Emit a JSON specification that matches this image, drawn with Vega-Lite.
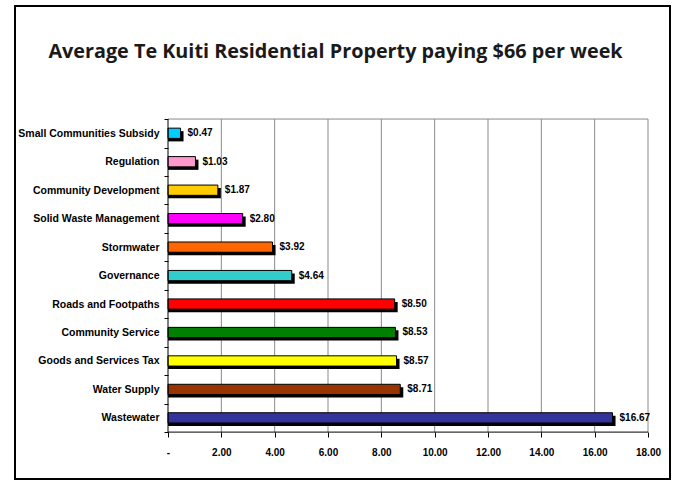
{
  "$schema": "https://vega.github.io/schema/vega-lite/v6.json",
  "width": 655,
  "height": 473,
  "autosize": "none",
  "padding": {"left": 15, "top": 6, "right": 8, "bottom": 2},
  "background": "white",
  "title": {
    "text": "Average Te Kuiti Residential Property paying $66 per week",
    "font": "Open Sans",
    "fontSize": 19.8,
    "fontWeight": "bold",
    "color": "#1a1a1a",
    "anchor": "middle",
    "offset": -61,
    "dx": -7
  },
  "config": {"view": {"stroke": "black", "strokeWidth": 2}},
  "resolve": {"axis": {"x": "independent", "y": "independent"}},
  "datasets": {
    "costs": [
      {"cat": "Small Communities Subsidy", "value": 0.47},
      {"cat": "Regulation", "value": 1.03},
      {"cat": "Community Development", "value": 1.87},
      {"cat": "Solid Waste Management", "value": 2.80},
      {"cat": "Stormwater", "value": 3.92},
      {"cat": "Governance", "value": 4.64},
      {"cat": "Roads and Footpaths", "value": 8.50},
      {"cat": "Community Service", "value": 8.53},
      {"cat": "Goods and Services Tax", "value": 8.57},
      {"cat": "Water Supply", "value": 8.71},
      {"cat": "Wastewater", "value": 16.67}
    ],
    "grid": [{"v": 2}, {"v": 4}, {"v": 6}, {"v": 8}, {"v": 10}, {"v": 12}, {"v": 14}, {"v": 16}, {"v": 18}],
    "edges": [{"x0": 0, "x1": 18}]
  },
  "layer": [
    {
      "data": {"name": "costs"},
      "mark": {"type": "bar", "stroke": "black", "strokeWidth": 1, "height": {"band": 0.36}, "opacity": 0},
      "encoding": {
        "x": {
          "field": "value",
          "type": "quantitative",
          "scale": {"domain": [-5.7375, 18.825], "nice": false, "zero": false},
          "axis": {
            "values": [0, 2, 4, 6, 8, 10, 12, 14, 16, 18],
            "labelExpr": "datum.value == 0 ? '-' : format(datum.value, '.2f')",
            "grid": false,
            "domain": false,
            "offset": -47,
            "tickSize": 5,
            "tickColor": "black",
            "labelPadding": 10,
            "labelFont": "Liberation Sans",
            "labelFontSize": 10,
            "labelFontWeight": "bold",
            "labelColor": "black",
            "title": null
          }
        },
        "x2": {"datum": 0},
        "y": {
          "field": "cat",
          "type": "nominal",
          "scale": {
            "domain": ["_p1", "_p2", "_p3", "Small Communities Subsidy", "Regulation", "Community Development", "Solid Waste Management", "Stormwater", "Governance", "Roads and Footpaths", "Community Service", "Goods and Services Tax", "Water Supply", "Wastewater", "_p4"],
            "paddingInner": 0,
            "paddingOuter": 0.81,
            "align": 0.6
          },
          "axis": {
            "values": ["Small Communities Subsidy", "Regulation", "Community Development", "Solid Waste Management", "Stormwater", "Governance", "Roads and Footpaths", "Community Service", "Goods and Services Tax", "Water Supply", "Wastewater"],
            "title": null,
            "domain": false,
            "grid": false,
            "offset": -153,
            "tickBand": "extent",
            "tickSize": 4,
            "tickColor": "black",
            "labelPadding": 5,
            "labelFont": "Liberation Sans",
            "labelFontSize": 10.5,
            "labelFontWeight": "bold",
            "labelColor": "black",
            "labelLimit": 300
          }
        }
      }
    },
    {
      "data": {"name": "grid"},
      "mark": {"type": "rule", "color": "#8a8a8a", "strokeWidth": 1},
      "encoding": {
        "x": {"field": "v", "type": "quantitative", "axis": null},
        "y": {"datum": "Small Communities Subsidy", "bandPosition": 0, "axis": null},
        "y2": {"datum": "Wastewater", "bandPosition": 1}
      }
    },
    {
      "data": {"name": "edges"},
      "mark": {"type": "rule", "color": "#8a8a8a", "strokeWidth": 1},
      "encoding": {
        "x": {"field": "x0", "type": "quantitative", "axis": null},
        "x2": {"field": "x1"},
        "y": {"datum": "Small Communities Subsidy", "bandPosition": 0, "axis": null}
      }
    },
    {
      "data": {"name": "costs"},
      "mark": {"type": "bar", "color": "black", "height": {"band": 0.36}, "xOffset": 3, "yOffset": 3},
      "encoding": {
        "x": {"field": "value", "type": "quantitative", "axis": null},
        "x2": {"datum": 0},
        "y": {"field": "cat", "type": "nominal", "axis": null}
      }
    },
    {
      "data": {"name": "costs"},
      "mark": {"type": "bar", "stroke": "black", "strokeWidth": 1, "height": {"band": 0.36}},
      "encoding": {
        "x": {"field": "value", "type": "quantitative", "axis": null},
        "x2": {"datum": 0},
        "y": {"field": "cat", "type": "nominal", "axis": null},
        "color": {
          "field": "cat",
          "type": "nominal",
          "scale": {
            "domain": ["Small Communities Subsidy", "Regulation", "Community Development", "Solid Waste Management", "Stormwater", "Governance", "Roads and Footpaths", "Community Service", "Goods and Services Tax", "Water Supply", "Wastewater"],
            "range": ["#00CCFF", "#FF99CC", "#FFCC00", "#FF00FF", "#FF6600", "#33CCCC", "#FF0000", "#008000", "#FFFF00", "#993300", "#333399"]
          },
          "legend": null
        }
      }
    },
    {
      "data": {"name": "costs"},
      "mark": {"type": "text", "align": "left", "baseline": "middle", "dx": 7, "font": "Liberation Sans", "fontSize": 10, "fontWeight": "bold", "color": "black"},
      "encoding": {
        "x": {"field": "value", "type": "quantitative", "axis": null},
        "y": {"field": "cat", "type": "nominal", "axis": null},
        "text": {"field": "value", "type": "quantitative", "format": "$.2f"}
      }
    },
    {
      "data": {"name": "edges"},
      "mark": {"type": "rule", "color": "black", "strokeWidth": 1},
      "encoding": {
        "x": {"field": "x0", "type": "quantitative", "axis": null},
        "y": {"datum": "Small Communities Subsidy", "bandPosition": 0, "axis": null},
        "y2": {"datum": "Wastewater", "bandPosition": 1}
      }
    },
    {
      "data": {"name": "edges"},
      "mark": {"type": "rule", "color": "black", "strokeWidth": 1},
      "encoding": {
        "x": {"field": "x0", "type": "quantitative", "axis": null},
        "x2": {"field": "x1"},
        "y": {"datum": "Wastewater", "bandPosition": 1, "axis": null}
      }
    }
  ]
}
